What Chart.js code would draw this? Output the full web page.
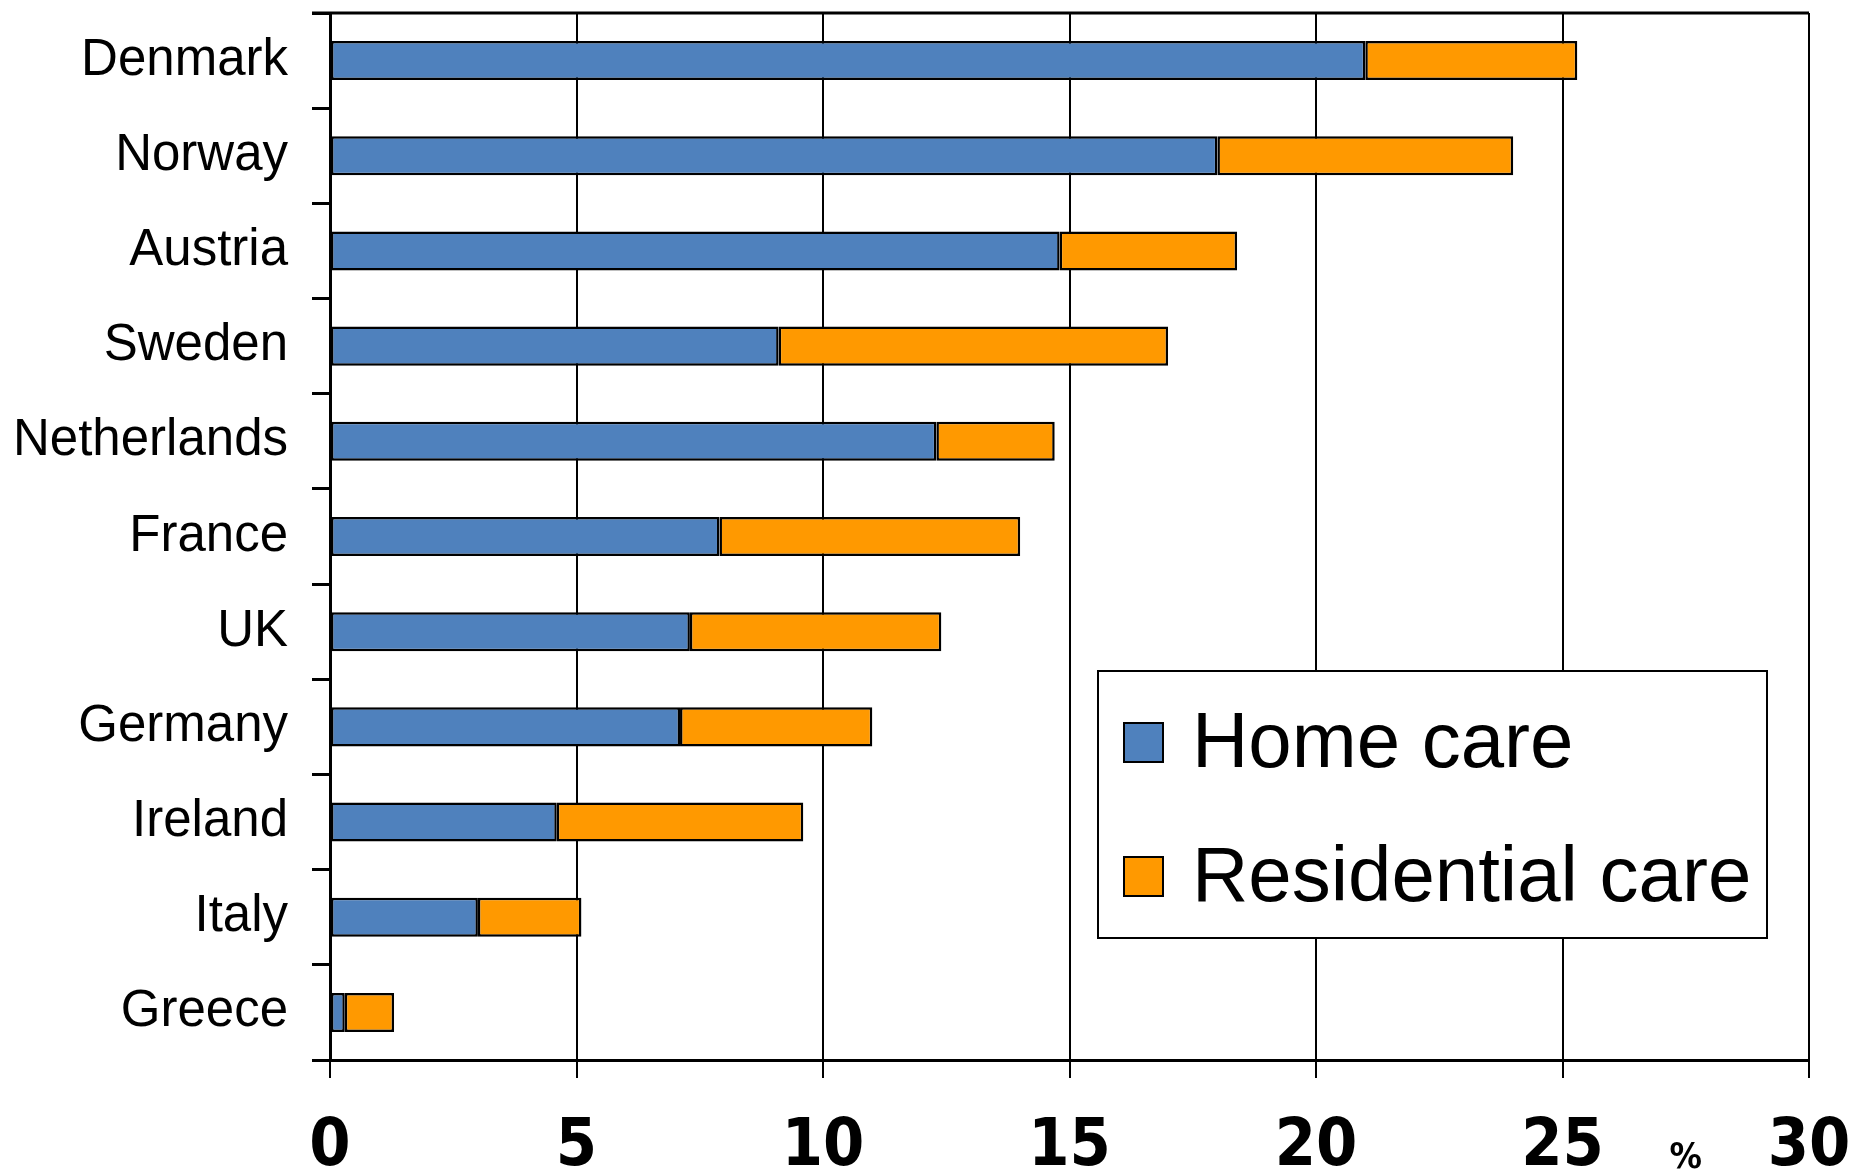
<!DOCTYPE html>
<html>
<head>
<meta charset="utf-8">
<script src="https://cdn.jsdelivr.net/npm/chart.js@4.4.1/dist/chart.umd.min.js"></script>
<style>
    body { margin: 0; background: #fff; }
    #wrap { position: relative; width: 1850px; height: 1170px; }
    #legend {
        position: absolute; left: 1097px; top: 670px; width: 667px; height: 265px;
        border: 2px solid #000; background: #fff;
        font-family: 'Liberation Sans', Arial, sans-serif; font-size: 78px; color: #000;
    }
    #legend .item { position: absolute; left: 24px; height: 80px; line-height: 80px; white-space: nowrap; }
    #legend .box { display: inline-block; width: 37px; height: 37px; border: 2px solid #000; vertical-align: middle; margin-right: 28px; position: relative; top: -4px; }
</style>
</head>
<body>
<div id="wrap">
    <canvas id="myChart" width="1850" height="1170"></canvas>
    <div id="legend"></div>
</div>
<script>
const countries = ['Denmark', 'Norway', 'Austria', 'Sweden', 'Netherlands', 'France', 'UK', 'Germany', 'Ireland', 'Italy', 'Greece'];
const homeCare = [21.0, 18.0, 14.8, 9.1, 12.3, 7.9, 7.3, 7.1, 4.6, 3.0, 0.3];
const residentialCare = [4.3, 6.0, 3.6, 7.9, 2.4, 6.1, 5.1, 3.9, 5.0, 2.1, 1.0];
const xTicks = [0, 5, 10, 15, 20, 25, 30];

const labelFont = "'Liberation Sans', Arial, sans-serif";
const tickFont = "'Liberation Sans Narrow', 'DejaVu Sans Condensed', 'Liberation Sans', Arial, sans-serif";

// top frame line and the little "%" under the axis
const extras = {
    id: 'extras',
    afterDraw(chart) {
        const c = chart.ctx, a = chart.chartArea, x = chart.scales.x;
        c.save();
        c.strokeStyle = '#000';
        c.lineWidth = 3;
        c.beginPath();
        c.moveTo(a.left - 18, a.top);
        c.lineTo(a.right, a.top);
        c.stroke();
        c.fillStyle = '#000';
        c.font = 'bold 36px ' + tickFont;
        c.textAlign = 'center';
        c.textBaseline = 'alphabetic';
        c.fillText('%', x.getPixelForValue(27.5), 1168);
        c.restore();
    }
};

const ctx = document.getElementById('myChart');
const myChart = new Chart(ctx, {
    type: 'bar',
    data: {
        labels: countries,
        datasets: [{
            label: 'Home care',
            data: homeCare,
            backgroundColor: '#4F81BD',
            borderColor: '#000',
            borderWidth: 2.5,
            borderSkipped: false
        }, {
            label: 'Residential care',
            data: residentialCare,
            backgroundColor: '#FF9900',
            borderColor: '#000',
            borderWidth: 2.5,
            borderSkipped: false
        }]
    },
    options: {
        indexAxis: 'y',
        responsive: false,
        animation: false,
        layout: { padding: { top: 13, right: 41, left: 0, bottom: 0 } },
        datasets: { bar: { categoryPercentage: 1, barPercentage: 0.41 } },
        scales: {
            x: {
                stacked: true,
                min: 0,
                max: 30,
                afterBuildTicks(scale) { scale.ticks = xTicks.map(v => ({ value: v })); },
                afterFit(scale) {
                    scale.height = 110;
                    scale.paddingLeft = 0;
                    scale.paddingRight = 0;
                },
                grid: { color: '#000', lineWidth: 2, tickLength: 18 },
                border: { color: '#000', width: 3 },
                ticks: {
                    color: '#000',
                    padding: 30,
                    maxRotation: 0,
                    font: { family: tickFont, size: 66, weight: 'bold' }
                }
            },
            y: {
                stacked: true,
                afterFit(scale) {
                    scale.width = 330;
                    scale.paddingTop = 0;
                    scale.paddingBottom = 0;
                },
                grid: { display: true, drawOnChartArea: false, color: '#000', lineWidth: 3, tickLength: 18, offset: true },
                border: { color: '#000', width: 3 },
                ticks: {
                    color: '#000',
                    padding: 24,
                    font: { family: labelFont, size: 51 }
                }
            }
        },
        plugins: {
            legend: { display: false },
            tooltip: { enabled: false }
        }
    },
    plugins: [extras]
});

// legend built from the datasets
const legendEl = document.getElementById('legend');
myChart.data.datasets.forEach(function(ds, i) {
    const item = document.createElement('div');
    item.className = 'item';
    item.style.top = (28 + i * 134) + 'px';
    const box = document.createElement('span');
    box.className = 'box';
    box.style.background = ds.backgroundColor;
    item.appendChild(box);
    item.appendChild(document.createTextNode(ds.label));
    legendEl.appendChild(item);
});
</script>
</body>
</html>
